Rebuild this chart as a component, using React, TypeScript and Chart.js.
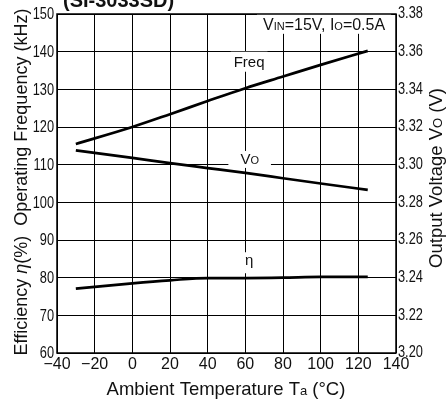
import React, { useEffect, useRef } from "react";
import { Chart, registerables } from "chart.js";

Chart.register(...registerables);

const temperatures = [-30, 0, 20, 40, 60, 80, 100, 125];
const freqKHz = [115.5, 120.0, 123.4, 126.9, 130.3, 133.4, 136.5, 140.2];
const efficiency = [77.1, 78.5, 79.3, 79.9, 79.9, 80.0, 80.2, 80.2];
const outputVoltage = [3.3076, 3.3036, 3.3008, 3.2982, 3.2956, 3.2928, 3.29, 3.2866];
const xTicks = [-40, -20, 0, 20, 40, 60, 80, 100, 120, 140];
const leftTicks = [60, 70, 80, 90, 100, 110, 120, 130, 140, 150];
const rightTicks = [3.2, 3.22, 3.24, 3.26, 3.28, 3.3, 3.32, 3.34, 3.36, 3.38];

const SANS = "'Liberation Sans', Arial, sans-serif";

type Part = { t: string; f: string; dy?: number };

function partsWidth(ctx: CanvasRenderingContext2D, parts: Part[]) {
  let w = 0;
  for (const p of parts) {
    ctx.font = p.f;
    w += ctx.measureText(p.t).width;
  }
  return w;
}

function drawParts(ctx: CanvasRenderingContext2D, parts: Part[], cx: number, y: number) {
  const w = partsWidth(ctx, parts);
  let x = cx - w / 2;
  ctx.textAlign = "left";
  ctx.textBaseline = "alphabetic";
  for (const p of parts) {
    ctx.font = p.f;
    ctx.fillText(p.t, x, y + (p.dy || 0));
    x += ctx.measureText(p.t).width;
  }
  return w;
}

function labelBox(
  ctx: CanvasRenderingContext2D,
  parts: Part[],
  cx: number,
  y: number,
  padX: number,
  top: number,
  bottom: number
) {
  const w = partsWidth(ctx, parts);
  ctx.fillStyle = "#fff";
  ctx.fillRect(cx - w / 2 - padX, y - top, w + padX * 2, top + bottom);
  ctx.fillStyle = "#111";
  drawParts(ctx, parts, cx, y);
}

function narrowText(ctx: CanvasRenderingContext2D, text: string, x: number, y: number, align: "left" | "right") {
  const sx = 0.8;
  ctx.save();
  ctx.translate(x, y);
  ctx.scale(sx, 1);
  ctx.font = `16px ${SANS}`;
  ctx.textAlign = align;
  ctx.textBaseline = "middle";
  ctx.fillText(text, 0, 0);
  ctx.restore();
}

const overlay = {
  id: "overlay",
  beforeDatasetsDraw(chart: any) {
    const ctx: CanvasRenderingContext2D = chart.ctx;
    const x = chart.scales.x;
    const yl = chart.scales.y;
    const yr = chart.scales.y2;
    ctx.save();
    const f15 = `15px ${SANS}`;
    const f16 = `16px ${SANS}`;
    const f11 = `11px ${SANS}`;
    const cond: Part[] = [
      { t: "V", f: f16 },
      { t: "IN", f: f11 },
      { t: "=15V, I", f: f16 },
      { t: "O", f: f11 },
      { t: "=0.5A", f: f16 },
    ];
    labelBox(ctx, cond, x.getPixelForValue(101.8), yl.getPixelForValue(145.8), 6, 18, 4);
    labelBox(ctx, [{ t: "Freq", f: f15 }], x.getPixelForValue(62), yl.getPixelForValue(136), 3, 15, 5);
    labelBox(
      ctx,
      [
        { t: "V", f: f15 },
        { t: "O", f: f11 },
      ],
      x.getPixelForValue(62.3),
      yr.getPixelForValue(3.3004),
      12,
      13,
      4
    );
    labelBox(ctx, [{ t: "η", f: f15 }], x.getPixelForValue(62), yl.getPixelForValue(83.3), 2, 13, 8);
    ctx.restore();
  },
  afterDraw(chart: any) {
    const ctx: CanvasRenderingContext2D = chart.ctx;
    const area = chart.chartArea;
    const yl = chart.scales.y;
    const yr = chart.scales.y2;
    ctx.save();
    ctx.fillStyle = "#111";
    ctx.strokeStyle = "#000";
    ctx.lineWidth = 1.5;
    ctx.strokeRect(area.left, area.top, area.right - area.left, area.bottom - area.top);
    // y tick labels (condensed)
    for (const v of leftTicks) narrowText(ctx, String(v), area.left - 3, yl.getPixelForValue(v) + 1, "right");
    for (const v of rightTicks) narrowText(ctx, v.toFixed(2), area.right + 2, yr.getPixelForValue(v), "left");
    // title (cut off at top)
    ctx.font = `bold 20px ${SANS}`;
    ctx.textAlign = "left";
    ctx.textBaseline = "alphabetic";
    ctx.fillText("(SI-3033SD)", 63, 7);
    // x title
    const f18 = `18.5px ${SANS}`;
    const f13 = `13px ${SANS}`;
    drawParts(
      ctx,
      [
        { t: "Ambient Temperature T", f: f18 },
        { t: "a", f: f13 },
        { t: " (°C)", f: f18 },
      ],
      226,
      395
    );
    // left title
    const fl = `18px ${SANS}`;
    ctx.save();
    ctx.translate(27, 182);
    ctx.rotate(-Math.PI / 2);
    drawParts(
      ctx,
      [
        { t: "Efficiency ", f: fl },
        { t: "η", f: `italic 18px ${SANS}` },
        { t: "(%)  Operating Frequency (kHz)", f: fl },
      ],
      0,
      0
    );
    ctx.restore();
    // right title
    ctx.save();
    ctx.translate(442, 178);
    ctx.rotate(-Math.PI / 2);
    drawParts(
      ctx,
      [
        { t: "Output Voltage V", f: f18 },
        { t: "O", f: f13 },
        { t: " (V)", f: f18 },
      ],
      0,
      0
    );
    ctx.restore();
    ctx.restore();
  },
};

export default function App() {
  const ref = useRef<HTMLCanvasElement | null>(null);
  useEffect(() => {
    document.body.style.margin = "0";
    const toPts = (vals: number[]) => temperatures.map((t, i) => ({ x: t, y: vals[i] }));
    const lineStyle = {
      borderColor: "#000",
      borderWidth: 2.7,
      pointRadius: 0,
      cubicInterpolationMode: "monotone",
      fill: false,
    };
    const chart = new Chart(ref.current as HTMLCanvasElement, {
      type: "line",
      data: {
        datasets: [
          { label: "Freq", data: toPts(freqKHz), yAxisID: "y", ...lineStyle },
          { label: "η", data: toPts(efficiency), yAxisID: "y", ...lineStyle },
          { label: "Vo", data: toPts(outputVoltage), yAxisID: "y2", ...lineStyle },
        ],
      },
      options: {
        animation: false,
        responsive: false,
        devicePixelRatio: 1,
        layout: { padding: { top: 14, left: 0, right: 0, bottom: 0 } },
        plugins: { legend: { display: false }, tooltip: { enabled: false }, title: { display: false } },
        scales: {
          x: {
            type: "linear",
            min: -40,
            max: 140,
            afterBuildTicks: (s: any) => {
              s.ticks = xTicks.map((v) => ({ value: v }));
            },
            afterFit: (s: any) => {
              s.height = 48;
            },
            grid: { color: "#000", lineWidth: 1, drawTicks: false },
            border: { display: false },
            ticks: {
              color: "#111",
              font: { family: SANS, size: 16 },
              padding: 2,
              maxRotation: 0,
              autoSkip: false,
              callback: (v: any) => String(v).replace("-", "\u2212"),
            },
          },
          y: {
            type: "linear",
            position: "left",
            min: 60,
            max: 150,
            afterBuildTicks: (s: any) => {
              s.ticks = leftTicks.map((v) => ({ value: v }));
            },
            afterFit: (s: any) => {
              s.width = 57;
            },
            grid: { color: "#000", lineWidth: 1, drawTicks: false },
            border: { display: false },
            ticks: { display: false },
          },
          y2: {
            type: "linear",
            position: "right",
            min: 3.2,
            max: 3.38,
            afterBuildTicks: (s: any) => {
              s.ticks = rightTicks.map((v) => ({ value: v }));
            },
            afterFit: (s: any) => {
              s.width = 52;
            },
            grid: { display: false, drawTicks: false },
            border: { display: false },
            ticks: { display: false },
          },
        },
      } as any,
      plugins: [overlay],
    });
    return () => chart.destroy();
  }, []);
  return <canvas ref={ref} width={448} height={401} style={{ display: "block", width: 448, height: 401 }} />;
}
